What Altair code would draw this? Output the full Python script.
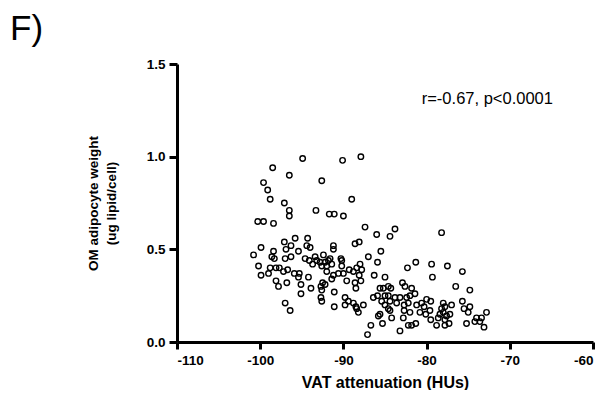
import altair as alt
import pandas as pd

vat_hu = [
    -94.9, -98.5, -96.5, -99.6, -99.1, -98.8, -97.1, -96.5, -96.5, -93.3,
    -92.6, -100.3, -99.6, -98.4, -90.1, -87.9, -89.0, -91.7, -91.1, -90.0,
    -95.8, -97.1, -96.3, -99.9, -96.9, -95.4, -98.4, -100.8, -98.6, -98.3,
    -97.0, -96.3, -100.2, -98.8, -98.1, -97.7, -97.2, -96.7, -95.9, -95.3,
    -99.0, -99.9, -95.4, -98.1, -96.8, -95.1, -97.8, -95.1, -97.0, -96.4,
    -94.3, -91.2, -91.2, -88.6, -94.4, -94.0, -94.6, -94.1, -93.4, -92.4,
    -91.6, -90.3, -90.2, -93.2, -92.8, -92.2, -91.8, -91.4, -93.7, -92.6,
    -92.0, -90.2, -88.4, -89.3, -88.8, -92.0, -90.6, -90.0, -91.2, -94.2,
    -91.4, -89.6, -92.5, -88.6, -92.2, -92.7, -93.9, -92.6, -91.1, -88.5,
    -92.7, -92.6, -89.8, -89.4, -88.8, -89.8, -88.5, -91.1, -88.4, -88.1,
    -88.0, -87.8, -88.1, -87.9, -87.4, -83.8, -86.0, -84.4, -85.5, -87.0,
    -85.9, -82.3, -86.3, -85.0, -82.6, -85.6, -85.2, -84.6, -84.3, -86.4,
    -85.9, -85.0, -84.6, -83.8, -83.2, -82.4, -82.0, -85.4, -84.4, -83.6,
    -82.7, -82.2, -85.0, -87.6, -88.2, -84.6, -84.4, -85.6, -85.8, -82.7,
    -84.2, -82.8, -82.0, -86.7, -85.3, -83.2, -82.2, -87.1, -82.9,
    -78.2, -81.3, -79.4, -77.5, -75.7, -79.3, -76.5, -74.8, -81.8, -81.4,
    -80.0, -79.5, -80.6, -81.2, -80.3, -78.0, -77.8, -78.2, -77.0, -75.7,
    -74.8, -75.5, -75.0, -74.0, -73.4, -73.6, -72.8, -80.8, -80.1, -79.6,
    -78.4, -78.0, -77.6, -77.2, -78.6, -77.8, -77.3, -78.8, -77.8, -79.5,
    -81.3, -81.8, -75.2, -74.2, -73.1,
]
adipocyte_wt = [
    0.99, 0.94, 0.90, 0.86, 0.82, 0.77, 0.75, 0.71, 0.68, 0.71,
    0.87, 0.65, 0.65, 0.64, 0.98, 1.00, 0.77, 0.69, 0.69, 0.68,
    0.56, 0.54, 0.52, 0.51, 0.50, 0.49, 0.49, 0.47, 0.46, 0.45,
    0.45, 0.46, 0.41, 0.40, 0.40, 0.40, 0.38, 0.39, 0.37, 0.37,
    0.37, 0.36, 0.35, 0.33, 0.32, 0.31, 0.30, 0.26, 0.21, 0.17,
    0.56, 0.52, 0.50, 0.53, 0.52, 0.51, 0.45, 0.44, 0.46, 0.47,
    0.45, 0.45, 0.44, 0.44, 0.43, 0.43, 0.44, 0.42, 0.42, 0.41,
    0.41, 0.41, 0.40, 0.39, 0.38, 0.38, 0.37, 0.37, 0.36, 0.35,
    0.34, 0.33, 0.32, 0.32, 0.31, 0.30, 0.29, 0.28, 0.27, 0.29,
    0.24, 0.22, 0.24, 0.22, 0.21, 0.20, 0.19, 0.19, 0.18, 0.54,
    0.42, 0.39, 0.36, 0.33, 0.62, 0.61, 0.58, 0.57, 0.49, 0.46,
    0.43, 0.40, 0.36, 0.35, 0.30, 0.29, 0.29, 0.30, 0.29, 0.24,
    0.25, 0.25, 0.25, 0.24, 0.24, 0.24, 0.25, 0.22, 0.22, 0.21,
    0.20, 0.21, 0.20, 0.20, 0.16, 0.18, 0.17, 0.15, 0.14, 0.17,
    0.13, 0.13, 0.16, 0.09, 0.10, 0.06, 0.09, 0.04, 0.32,
    0.59, 0.43, 0.42, 0.41, 0.38, 0.35, 0.30, 0.28, 0.29, 0.26,
    0.23, 0.22, 0.21, 0.20, 0.19, 0.21, 0.19, 0.18, 0.20, 0.22,
    0.19, 0.18, 0.16, 0.13, 0.13, 0.11, 0.16, 0.16, 0.15, 0.17,
    0.15, 0.16, 0.14, 0.15, 0.13, 0.12, 0.10, 0.09, 0.09, 0.12,
    0.10, 0.09, 0.10, 0.11, 0.08,
]

x_ticks = [-110, -100, -90, -80, -70, -60]
y_ticks = [0.0, 0.5, 1.0, 1.5]
annotation = ["r=-0.67, p<0.0001"]
annotation_pos = [-72.7, 1.31]
panel_label = "F)"

df = pd.DataFrame({"x": vat_hu, "y": adipocyte_wt})
ann = pd.DataFrame({"x": [annotation_pos[0]], "y": [annotation_pos[1]], "t": annotation})

FONT = "Liberation Sans"

x_enc = alt.X(
    "x:Q",
    scale=alt.Scale(domain=[-110, -60], nice=False, zero=False),
    axis=alt.Axis(
        values=x_ticks,
        title="VAT attenuation (HUs)",
        labelExpr="'' + datum.value",
        tickSize=7,
        labelPadding=4,
        titleFontSize=16,
        titlePadding=8,
    ),
)
y_enc = alt.Y(
    "y:Q",
    scale=alt.Scale(domain=[0, 1.5], nice=False, zero=False),
    axis=alt.Axis(
        values=y_ticks,
        title=["OM adipocyte weight", "(ug lipid/cell)"],
        format=".1f",
        tickSize=8,
        labelPadding=4,
        titleFontSize=13.5,
        titlePadding=28,
        titleLineHeight=18,
    ),
)

points = alt.Chart(df).mark_point(
    shape="circle", filled=False, size=30, strokeWidth=1.4, color="black", opacity=1
).encode(x=x_enc, y=y_enc)

text = alt.Chart(ann).mark_text(
    font=FONT, fontSize=16.5, color="black", align="center", baseline="middle"
).encode(x=alt.X("x:Q"), y=alt.Y("y:Q"), text="t:N")

label = alt.Chart(pd.DataFrame({"t": [panel_label]})).mark_text(
    font=FONT, fontSize=35, color="black", align="left", baseline="alphabetic"
).encode(x=alt.value(-167), y=alt.value(-24), text="t:N")

chart = (
    alt.layer(points, text, label)
    .properties(
        width=416,
        height=278,
        autosize=alt.AutoSizeParams(type="none"),
        padding={"left": 169, "top": 56, "right": 6, "bottom": 48},
    )
    .configure_view(stroke=None)
    .configure_axis(
        grid=False,
        domainColor="black",
        domainWidth=3,
        tickColor="black",
        tickWidth=3,
        labelFont=FONT,
        labelFontSize=13.5,
        labelFontWeight="bold",
        labelColor="black",
        titleFont=FONT,
        titleFontWeight="bold",
        titleColor="black",
    )
)

chart.save("out.html", embed_options={"renderer": "svg", "actions": False})
